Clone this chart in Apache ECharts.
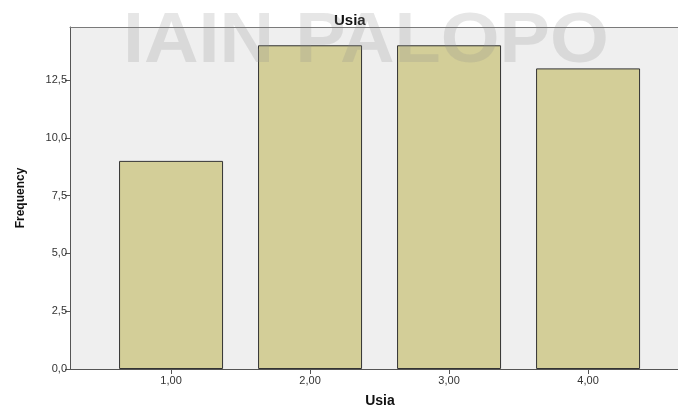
<!DOCTYPE html>
<html>
<head>
<meta charset="utf-8">
<script src="https://cdn.jsdelivr.net/npm/echarts@6/dist/echarts.min.js"></script>
<style>
html,body{margin:0;padding:0;background:#fff;}
#chart{width:678px;height:407px;}
</style>
</head>
<body>
<div id="chart"></div>
<script>
// data
var categories = [1, 2, 3, 4];
var frequency = [9, 14, 14, 13];
var yTicks = [0, 2.5, 5, 7.5, 10, 12.5];

function fmt(v, d) {
	return v.toFixed(d).replace('.', ',');
}

var barData = [];
for (var i = 0; i < categories.length; i++) {
	barData.push([categories[i], frequency[i]]);
}

var myChart = echarts.init(document.getElementById('chart'));
var option = {
	animation: false,
	backgroundColor: '#ffffff',
	title: {
		text: 'Usia',
		left: 329,
		top: 8,
		textStyle: {fontFamily: 'Liberation Sans', fontSize: 15, fontWeight: 'bold', color: '#111'}
	},
	grid: {
		left: 70, top: 27, right: 0, bottom: 38,
		outerBoundsMode: 'none',
		containLabel: false,
		show: true, backgroundColor: '#efefef', borderWidth: 0
	},
	xAxis: [{
		type: 'value',
		min: 0.273,
		max: 4.647,
		name: 'Usia',
		nameLocation: 'middle',
		nameGap: 25,
		nameTextStyle: {fontFamily: 'Liberation Sans', fontSize: 14, fontWeight: 'bold', color: '#111', padding: [0, 0, 0, 12]},
		splitLine: {show: false},
		axisLine: {lineStyle: {color: '#555', width: 1}},
		axisTick: {customValues: categories, length: 5, lineStyle: {color: '#555'}},
		axisLabel: {
			customValues: categories,
			fontFamily: 'Liberation Sans', fontSize: 11, color: '#333', margin: 6,
			formatter: function (v) { return fmt(v, 2); }
		}
	}, {
		type: 'value',
		position: 'top',
		min: 0.273,
		max: 4.647,
		z: 120,
		splitLine: {show: false},
		axisLine: {show: true, lineStyle: {color: '#7a7a7a', width: 1}},
		axisTick: {show: false},
		axisLabel: {show: false}
	}],
	yAxis: {
		type: 'value',
		min: 0,
		max: 14.79,
		name: 'Frequency',
		nameLocation: 'middle',
		nameGap: 43,
		nameRotate: 90,
		nameTextStyle: {fontFamily: 'Liberation Sans', fontSize: 12, fontWeight: 'bold', color: '#111'},
		splitLine: {show: false},
		axisLine: {show: true, lineStyle: {color: '#555', width: 1}},
		axisTick: {show: true, customValues: yTicks, length: 5, lineStyle: {color: '#555'}},
		axisLabel: {
			customValues: yTicks,
			fontFamily: 'Liberation Sans', fontSize: 11, color: '#333', margin: 3,
			formatter: function (v) { return fmt(v, 1); }
		}
	},
	graphic: [{
		type: 'text',
		x: 123,
		y: 8,
		scaleX: 1.08,
		z: 100,
		style: {
			text: 'IAIN PALOPO',
			fontFamily: 'Liberation Sans',
			fontSize: 70,
			fontWeight: 'bold',
			fill: 'rgba(140,140,140,0.22)'
		}
	}],
	series: [{
		type: 'bar',
		data: barData,
		barWidth: 104,
		itemStyle: {color: '#d3ce98', borderColor: '#333', borderWidth: 1}
	}]
};
myChart.setOption(option, true);
</script>
</body>
</html>
